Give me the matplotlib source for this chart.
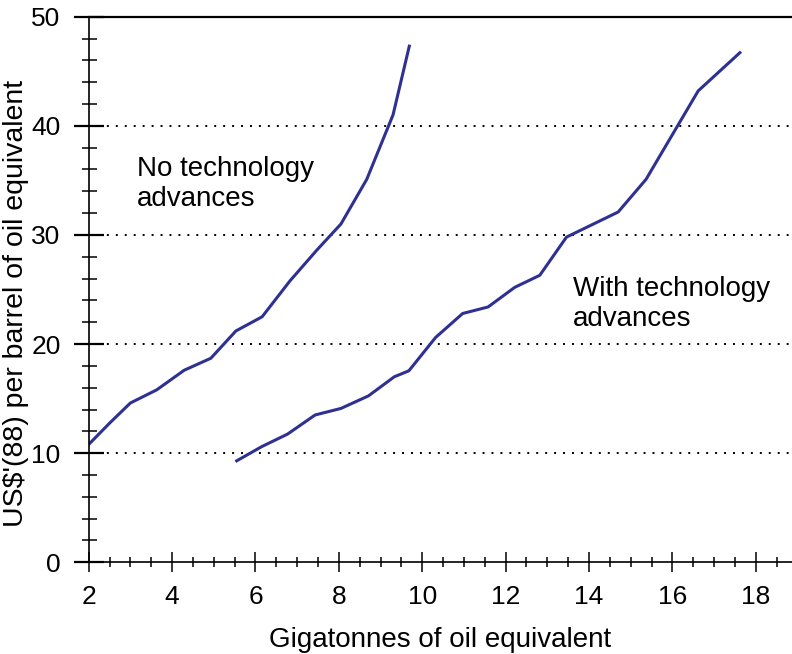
# ==========================
# Oil supply cost curves: with / without technology advances
# ==========================

import matplotlib
matplotlib.use("Agg")
import matplotlib.pyplot as plt
from matplotlib.ticker import MultipleLocator

# --------------------------
# Data
# --------------------------
no_tech_x = [2.0, 2.5, 3.0, 3.63, 4.29, 4.93, 5.53, 6.16, 6.83, 7.47, 8.05, 8.67, 9.30, 9.69]
no_tech_y = [10.8, 12.75, 14.6, 15.8, 17.6, 18.7, 21.2, 22.5, 25.8, 28.6, 31.0, 35.1, 41.0, 47.3]

with_tech_x = [5.55, 6.15, 6.77, 7.43, 8.05, 8.71, 9.33, 9.68, 10.32, 10.97, 11.58,
               12.22, 12.82, 13.46, 14.70, 15.37, 16.62, 17.62]
with_tech_y = [9.3, 10.6, 11.75, 13.5, 14.1, 15.25, 17.0, 17.55, 20.6, 22.8, 23.4,
               25.2, 26.3, 29.8, 32.1, 35.1, 43.2, 46.7]

x_ticks = [2, 4, 6, 8, 10, 12, 14, 16, 18]
y_ticks = [0, 10, 20, 30, 40, 50]
grid_levels = [10, 20, 30, 40]

label_no_tech = "No technology\nadvances"
label_with_tech = "With technology\nadvances"

# --------------------------
# Figure setup
# --------------------------
plt.rcParams['font.family'] = ['Liberation Sans', 'DejaVu Sans']
plt.rcParams['font.size'] = 19

line_color = "#2e3192"

fig = plt.figure(figsize=(7.92, 6.54), dpi=100)
ax = fig.add_axes([0.112, 0.1402, 0.888, 0.8343])

ax.plot(no_tech_x, no_tech_y, color=line_color, linewidth=2.2)
ax.plot(with_tech_x, with_tech_y, color=line_color, linewidth=2.2)

# dotted horizontal guides
for lvl in grid_levels:
    ax.axhline(lvl, color="black", linewidth=1.4, linestyle=(0, (1, 3.6)), zorder=0)

ax.set_xlim(2, 18.87)
ax.set_ylim(0, 50)

# --------------------------
# Axes / ticks
# --------------------------
ax.spines['right'].set_visible(False)
ax.spines['top'].set_linewidth(1.6)
ax.spines['left'].set_linewidth(1.2)
ax.spines['bottom'].set_linewidth(1.2)

ax.set_xticks(x_ticks)
ax.set_yticks(y_ticks)
ax.xaxis.set_minor_locator(MultipleLocator(0.5))
ax.yaxis.set_minor_locator(MultipleLocator(2))

ax.tick_params(axis='x', which='major', direction='inout', length=14.4, width=1.1, pad=9)
ax.tick_params(axis='x', which='minor', direction='inout', length=7.2, width=1.1)
ax.tick_params(axis='y', which='major', direction='inout', length=21.6, width=1.6, pad=9.5)
ax.tick_params(axis='y', which='minor', direction='inout', length=10.8, width=1.1)

ax.set_xlabel("Gigatonnes of oil equivalent", fontsize=20)
ax.set_ylabel("US$'(88) per barrel of oil equivalent", fontsize=20.5)
ax.xaxis.set_label_coords(0.5, -0.118)
ax.yaxis.set_label_coords(-0.085, 0.475)

# --------------------------
# Annotations
# --------------------------
ax.text(3.15, 37.2, label_no_tech, va='top', ha='left', fontsize=20)
ax.text(13.62, 26.2, label_with_tech, va='top', ha='left', fontsize=20)

fig.savefig("out.png", dpi=100)
